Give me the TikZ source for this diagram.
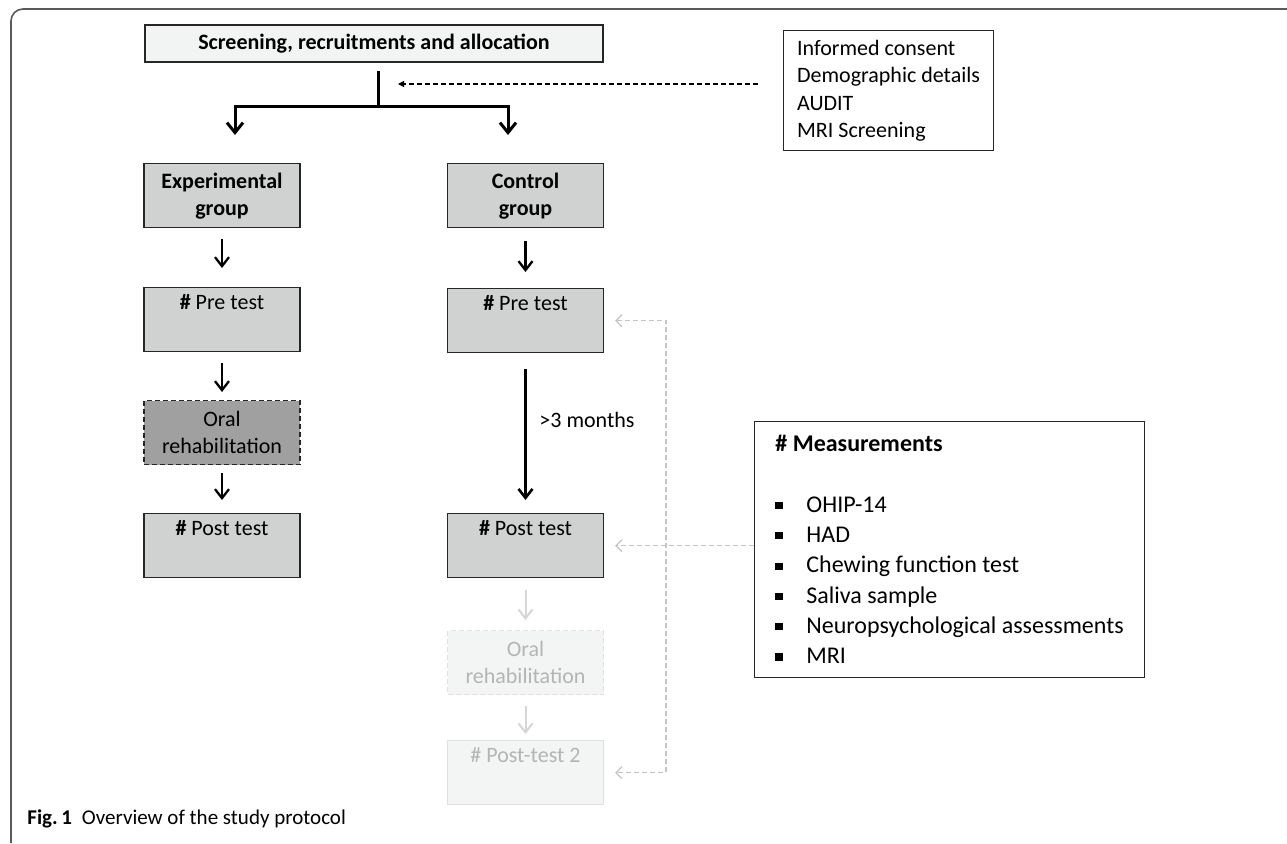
\documentclass[tikz,border=0pt]{standalone}
\usepackage{fontspec}
\setmainfont{Carlito}
\usetikzlibrary{arrows.meta}
\definecolor{boxgray}{HTML}{D0D2D1}
\definecolor{scrfill}{HTML}{F2F4F3}
\definecolor{oralfill}{HTML}{A0A0A0}
\definecolor{fadefill}{HTML}{F3F5F4}
\definecolor{fadeline}{HTML}{E0E0E0}
\definecolor{fadetext}{HTML}{B4B4B4}
\definecolor{fadearrow}{HTML}{D6D6D6}
\definecolor{linkgray}{HTML}{C4C4C4}
\definecolor{framegray}{HTML}{5A5A5A}
\newcommand{\bsq}{\makebox[15.5pt][l]{\raisebox{1.6pt}{\rule{3.6pt}{3.6pt}}}}
\begin{document}
\begin{tikzpicture}[x=0.5pt,y=-0.5pt,
  every node/.style={font=\fontsize{11pt}{13.5pt}\selectfont},
  stage/.style={draw=black!85, line width=0.65pt, fill=boxgray, minimum width=78pt,
    minimum height=32pt, inner sep=0pt, anchor=north, align=center},
  oralx/.style={stage, fill=oralfill, dashed, dash pattern=on 2.5pt off 1.5pt},
  faded/.style={stage, fill=fadefill, draw=fadeline, text=fadetext},
  arr/.style={line width=1.15pt, -{Straight Barb[length=4.5pt,width=7pt]}},
  thickline/.style={line width=1.5pt},
  fadearr/.style={fadearrow, line width=1pt, -{Straight Barb[length=4.5pt,width=7pt]}},
  link/.style={linkgray, line width=0.6pt, dash pattern=on 2.5pt off 1.5pt},
  topdash/.style={black, line width=0.6pt, dash pattern=on 2.5pt off 1.5pt, -{Triangle[length=3pt,width=3pt]}}
]
\useasboundingbox (0,0) rectangle (1287,843);
\fill[white] (0,0) rectangle (1287,843);
% frame
\draw[framegray, line width=0.8pt, rounded corners=6pt] (1287,9) -- (11,9) -- (11,843);

% top
\node[draw=black!85, line width=0.65pt, fill=scrfill, minimum width=229pt, minimum height=18.5pt,
  inner sep=0pt, font=\fontsize{11pt}{13.5pt}\selectfont\bfseries] (scr) at (374,43.5)
  {Screening, recruitments and allocation};
\node[draw=black!85, line width=0.6pt, anchor=north west, minimum width=105pt, minimum height=60pt,
  inner xsep=5pt, align=left, font=\fontsize{11pt}{13.75pt}\selectfont] (info) at (783,30)
  {Informed consent\\Demographic details\\AUDIT\\MRI Screening};

% columns
\node[stage, font=\fontsize{11pt}{13.5pt}\selectfont\bfseries] (exg) at (222,163) {Experimental\\group};
\node[stage, font=\fontsize{11pt}{13.5pt}\selectfont\bfseries] (ctg) at (525.5,163) {Control\\group};
\node[stage] (expre) at (222,287) {\textbf{\#} Pre test\\\strut};
\node[stage] (ctpre) at (525.5,288) {\textbf{\#} Pre test\\\strut};
\node[oralx] (exoral) at (222,400) {Oral\\rehabilitation};
\node[stage] (expost) at (222,513) {\textbf{\#} Post test\\\strut};
\node[stage] (ctpost) at (525.5,513) {\textbf{\#} Post test\\\strut};
\node[faded, dashed, dash pattern=on 2.5pt off 1.5pt] (ctoral) at (525.5,630) {Oral\\rehabilitation};
\node[faded] (ctpost2) at (525.5,740) {\# Post-test 2\\\strut};

% measurements
\node[draw=black!85, line width=0.6pt, anchor=north west, minimum width=195pt, minimum height=128pt,
  inner xsep=4.5pt, align=left, font=\fontsize{12pt}{15.15pt}\selectfont] (meas) at (754,421)
  {\textbf{\# Measurements}\\ \\
   \bsq OHIP-14\\ \bsq HAD\\ \bsq Chewing function test\\ \bsq Saliva sample\\
   \bsq Neuropsychological assessments\\ \bsq MRI};

% branch
\coordinate (brtop) at (378,71);
\coordinate (brmid) at (378,106);
\coordinate (brl) at (235,106);
\coordinate (brr) at (508,106);
\coordinate (brlend) at (235,135);
\coordinate (brrend) at (508,135);
\draw[thickline] (brtop) -- (brmid);
\draw[thickline, -{Straight Barb[length=5pt,width=8pt]}] (brmid) -- (brl) -- (brlend);
\draw[thickline, -{Straight Barb[length=5pt,width=8pt]}] (brmid) -- (brr) -- (brrend);

% top dashed arrow
\coordinate (dsrc) at (758,84);
\draw[topdash, shorten >=10pt] (dsrc) -- (dsrc -| brtop);

% experimental arrows
\draw[arr, shorten <=5.5pt, shorten >=9.5pt] (exg.south) -- (expre.north);
\draw[arr, shorten <=5.5pt, shorten >=4pt] (expre.south) -- (exoral.north);
\draw[arr, shorten <=4pt, shorten >=6.5pt] (exoral.south) -- (expost.north);

% control arrows
\draw[arr, shorten <=6.5pt, shorten >=8pt] (ctg.south) -- (ctpre.north);
\draw[arr, line width=1.3pt, shorten <=8pt, shorten >=6.5pt] (ctpre.south) -- (ctpost.north)
  node[pos=0.42, right=3pt, font=\fontsize{11pt}{13.5pt}\selectfont] (months) {>3 months};
\draw[fadearr, shorten <=6pt, shorten >=5pt] (ctpost.south) -- (ctoral.north);
\draw[fadearr, shorten <=5.5pt, shorten >=3pt] (ctoral.south) -- (ctpost2.north);

% light links
\coordinate (lk) at (666,320);
\draw[link, {Straight Barb[length=3pt,width=6pt]}-{Straight Barb[length=3pt,width=6pt]},
  shorten <=5.5pt, shorten >=5.5pt]
  (ctpre.east) -- (ctpre.east -| lk) -- (ctpost2.east -| lk) -- (ctpost2.east);
\draw[link, -{Straight Barb[length=3pt,width=6pt]}, shorten >=5.5pt] (meas.west |- ctpost.east) -- (ctpost.east);

% caption
\node[anchor=west, inner sep=0pt, font=\fontsize{10.5pt}{12.5pt}\selectfont] (cap) at (27,819)
  {\textbf{Fig.\,1}\hspace{5pt}Overview of the study protocol};
\end{tikzpicture}
\end{document}
